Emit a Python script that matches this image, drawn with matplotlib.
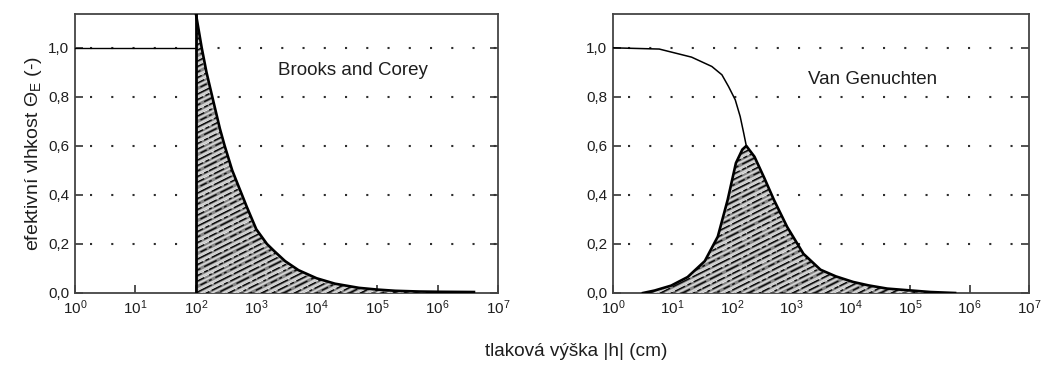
import matplotlib
matplotlib.use("Agg")
import matplotlib.pyplot as plt
from matplotlib.ticker import FixedLocator, FixedFormatter

plt.rcParams['font.family'] = ['Liberation Sans', 'DejaVu Sans']
plt.rcParams['mathtext.default'] = 'regular'

# Brooks and Corey: retention line and shaded distribution
bc_line_h = [1, 100]
bc_line_theta = [1.0, 1.0]
bc_h = [100, 110, 125, 150, 200, 250, 300, 400, 500, 700, 1000, 1500, 2000,
        3000, 5000, 1e4, 2e4, 5e4, 1e5, 2e5, 5e5, 1e6, 4e6]
bc_p = [1.14, 1.08, 1.00, 0.90, 0.77, 0.67, 0.60, 0.50, 0.44, 0.35, 0.26, 0.20,
        0.17, 0.13, 0.093, 0.06, 0.038, 0.021, 0.014, 0.009, 0.006, 0.005, 0.004]

# Van Genuchten: retention line and shaded distribution
vg_line_h = [1, 6, 21, 46, 68, 88, 114, 138, 158, 175]
vg_line_theta = [1.0, 0.995, 0.962, 0.924, 0.89, 0.842, 0.788, 0.72, 0.653, 0.60]
vg_h = [3.2, 5, 9.5, 18, 35, 58, 85, 117, 150, 175, 240, 350, 510, 850, 1600,
        3100, 5600, 11000, 20000, 41000, 2.2e5, 5.7e5]
vg_p = [0.0, 0.01, 0.03, 0.065, 0.13, 0.23, 0.38, 0.53, 0.585, 0.60, 0.556, 0.47,
        0.38, 0.27, 0.16, 0.095, 0.068, 0.045, 0.031, 0.018, 0.004, 0.0]

y_ticks = [0.0, 0.2, 0.4, 0.6, 0.8, 1.0]
y_labels = ['0,0', '0,2', '0,4', '0,6', '0,8', '1,0']
x_ticks = [10.0 ** k for k in range(8)]
x_labels = [r'$10^{%d}$' % k for k in range(8)]

panel_titles = ['Brooks and Corey', 'Van Genuchten']

W, H = 1051, 367
fig = plt.figure(figsize=(W / 100, H / 100), dpi=100)
ax1 = fig.add_axes([75 / W, 1 - 293 / H, 423 / W, 279.5 / H])
ax2 = fig.add_axes([613 / W, 1 - 293 / H, 416 / W, 279.5 / H])

text_col = '#1e1e1e'

# striped texture: slope in pixels, vertical period in pixels
STRIPE_SLOPE = 0.5
STRIPE_PERIOD = 5.5
BLACK_DASHES = [(6, 2, 3, 1), (10, 3), (3, 2, 8, 2), (14, 2), (2, 3, 5, 2),
                (8, 4, 2, 2)]


def stripe(ax, base, y0, m, color, lw, dashes=None, z=3):
    kw = dict(transform=ax.transAxes, color=color, lw=lw,
              solid_capstyle='butt', zorder=z)
    if dashes is not None:
        kw.update(dashes=dashes, dash_capstyle='butt')
    ln = ax.plot([0, 1], [y0, y0 + m], **kw)[0]
    ln.set_clip_path(base)


def shade(ax, h, p, ax_w_px, ax_h_px):
    hh = [h[0]] + list(h) + [h[-1]]
    pp = [0.0] + list(p) + [0.0]
    base = ax.fill(hh, pp, facecolor='#858585', edgecolor='none', zorder=2)[0]
    m = STRIPE_SLOPE * ax_w_px / ax_h_px
    step = STRIPE_PERIOD / ax_h_px
    n = int((1 + m) / step) + 2
    for k in range(n):
        c = -m + k * step
        stripe(ax, base, c, m, '#d4d4d4', 1.3)
        off = c + 0.5 * step
        if k % 3 != 1:
            stripe(ax, base, off + 0.22 * step, m, 'white', 0.6)
        d = BLACK_DASHES[k % len(BLACK_DASHES)]
        stripe(ax, base, off, m, '#0a0a0a', 1.0, dashes=d, z=4)
    ax.plot(h, p, color='black', lw=1.9, zorder=5)


def style(ax):
    ax.set_xscale('log')
    ax.set_xlim(1, 1e7)
    ax.set_ylim(0, 1.14)
    ax.xaxis.set_major_locator(FixedLocator(x_ticks))
    ax.xaxis.set_major_formatter(FixedFormatter(x_labels))
    ax.xaxis.set_minor_locator(FixedLocator([]))
    ax.yaxis.set_major_locator(FixedLocator(y_ticks))
    ax.yaxis.set_major_formatter(FixedFormatter(y_labels))
    ax.tick_params(axis='both', direction='in', length=6, width=1.2,
                   color='#333333', labelsize=11, labelcolor=text_col, pad=4)
    ax.tick_params(axis='y', right=True, labelright=False)
    for s in ax.spines.values():
        s.set_color('#444444')
        s.set_linewidth(1.3)
    for y in y_ticks[1:]:
        ax.axhline(y, color='#2e2e2e', lw=1.5, ls=(3, (1, 9.2)), zorder=1)


style(ax1)
style(ax2)

# Brooks and Corey panel
shade(ax1, bc_h, bc_p, 423, 279.5)
ax1.plot(bc_line_h, bc_line_theta, color='black', lw=1.0, zorder=6)
ax1.plot([bc_h[0], bc_h[0]], [0, bc_p[0]], color='black', lw=2.0, zorder=6)
ax1.text(0.48, 0.795, panel_titles[0], transform=ax1.transAxes, fontsize=13.5,
         color=text_col, va='center', ha='left')

# Van Genuchten panel
shade(ax2, vg_h, vg_p, 416, 279.5)
ax2.plot(vg_line_h, vg_line_theta, color='black', lw=1.1, zorder=6)
ax2.text(0.468, 0.765, panel_titles[1], transform=ax2.transAxes, fontsize=13.5,
         color=text_col, va='center', ha='left')

ax1.set_ylabel(r'efektivní vlhkost $\Theta_{E}$ (-)', fontsize=14, color=text_col,
               labelpad=3)
fig.text(576 / W, 1 - 352 / H, 'tlaková výška |h| (cm)', fontsize=13.7,
         color=text_col, ha='center', va='center')

fig.savefig('out.png', dpi=100)
